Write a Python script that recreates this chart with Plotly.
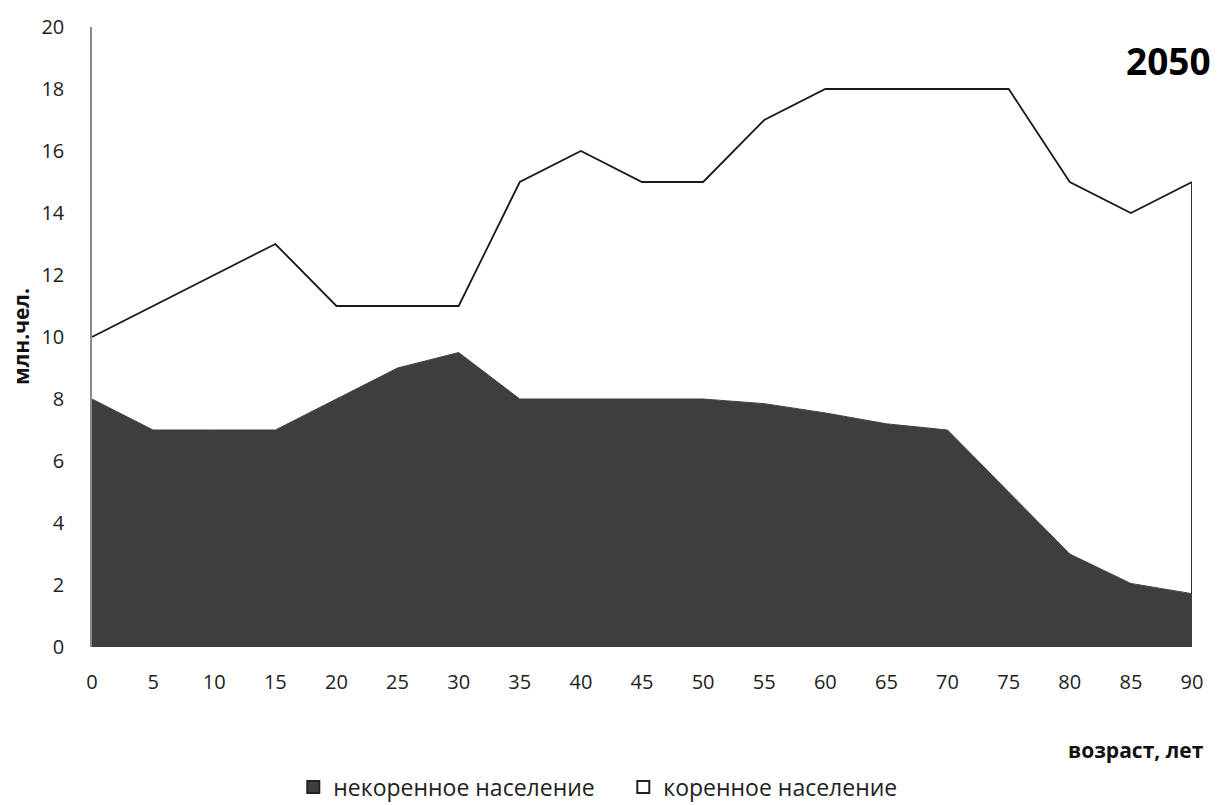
import plotly.graph_objects as go

# ---- data ----
ages = [0, 5, 10, 15, 20, 25, 30, 35, 40, 45, 50, 55, 60, 65, 70, 75, 80, 85, 90]
nonnative = [8, 7, 7, 7, 8, 9, 9.5, 8, 8, 8, 8, 7.85, 7.55, 7.2, 7, 5, 3, 2.05, 1.72]
total = [10, 11, 12, 13, 11, 11, 11, 15, 16, 15, 15, 17, 18, 18, 18, 18, 15, 14, 15]
native = [round(t - n, 3) for t, n in zip(total, nonnative)]

name_nonnative = "некоренное население"
name_native = "коренное население"
y_title = "млн.чел."
x_title = "возраст, лет"
year_label = "2050"

DARK = "#3e3e3e"
FONT = "Open Sans"

fig = go.Figure()

# stacked areas
fig.add_trace(go.Scatter(
    x=ages, y=nonnative, stackgroup="one", mode="lines",
    line=dict(color=DARK, width=1), fillcolor=DARK,
    name=name_nonnative, showlegend=False, hoverinfo="skip"))
fig.add_trace(go.Scatter(
    x=ages, y=native, stackgroup="one", mode="lines",
    line=dict(color="#1a1a1a", width=1.8), fillcolor="rgba(255,255,255,1)",
    name=name_native, showlegend=False, hoverinfo="skip"))
# right edge of the upper area outline
fig.add_trace(go.Scatter(
    x=[ages[-1], ages[-1]], y=[total[-1], nonnative[-1]], mode="lines",
    line=dict(color="#1a1a1a", width=1.8), showlegend=False, hoverinfo="skip"))

# legend entries
fig.add_trace(go.Scatter(
    x=[None], y=[None], mode="markers", name=name_nonnative,
    marker=dict(symbol="square", size=14, color=DARK, line=dict(color="#222", width=1))))
fig.add_trace(go.Scatter(
    x=[None], y=[None], mode="markers", name=name_native,
    marker=dict(symbol="square", size=14, color="white", line=dict(color="#222", width=1.4))))

fig.update_layout(
    width=1216, height=797,
    margin=dict(l=84, r=32, t=19, b=158, autoexpand=False),
    paper_bgcolor="white", plot_bgcolor="white",
    font=dict(family=FONT, size=20, color="#222"),
    showlegend=True,
    legend=dict(orientation="h", x=0.183, xanchor="left", y=-0.226, yanchor="middle",
                traceorder="normal",
                font=dict(size=23, color="#222"), itemsizing="constant",
                entrywidth=285, bgcolor="rgba(0,0,0,0)"),
    xaxis=dict(range=[0, 90], tickvals=ages, ticktext=[str(a) for a in ages],
               showgrid=False, zeroline=False, showline=False, ticks="",
               automargin=False,
               ticklabelstandoff=21, tickfont=dict(size=20, color="#222")),
    yaxis=dict(range=[0, 20], dtick=2, tick0=0, showgrid=False, zeroline=False,
               showline=True, linecolor="#8a8a8a", linewidth=1.5, ticks="",
               automargin=False,
               ticklabelstandoff=22, tickfont=dict(size=20, color="#222")),
    annotations=[
        dict(text="<b>" + y_title + "</b>", xref="paper", yref="paper", x=0, y=0.5,
             xanchor="center", yanchor="middle", xshift=-71, textangle=-90,
             showarrow=False, font=dict(size=21, color="#111")),
        dict(text="<b>" + x_title + "</b>", xref="paper", yref="paper", x=1, y=0,
             xanchor="right", yanchor="middle", xshift=14, yshift=-103,
             showarrow=False, font=dict(size=21, color="#111")),
        dict(text="<b>" + year_label + "</b>", xref="paper", yref="paper", x=1, y=1,
             xanchor="left", yanchor="middle", xshift=-68, yshift=-33,
             showarrow=False, font=dict(size=37, color="#000")),
    ],
)

fig.write_html("out.html")
